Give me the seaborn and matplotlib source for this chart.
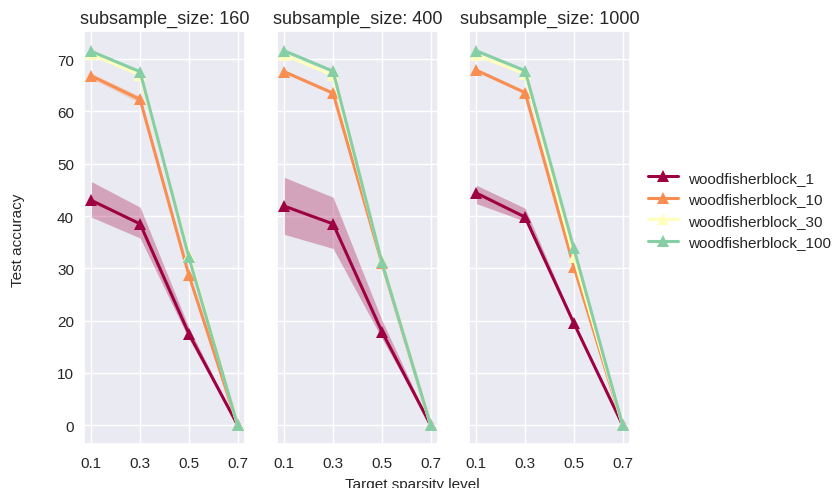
import numpy as np
import pandas as pd
import matplotlib
matplotlib.use("Agg")
import matplotlib.pyplot as plt
import seaborn as sns

# Target sparsity levels on the x axis
sparsity = [0.1, 0.3, 0.5, 0.7]
x_ticks = [0.1, 0.3, 0.5, 0.7]
subsample_sizes = [160, 400, 1000]
methods = ["woodfisherblock_1", "woodfisherblock_10",
           "woodfisherblock_30", "woodfisherblock_100"]

# Mean test accuracy per method, one row per subsample size (160, 400, 1000)
acc_wfb1 = [[43.0, 38.5, 17.5, 0.0],
            [41.9, 38.5, 17.9, 0.0],
            [44.4, 39.8, 19.5, 0.0]]
acc_wfb10 = [[66.8, 62.3, 28.7, 0.0],
             [67.6, 63.5, 31.0, 0.0],
             [67.9, 63.6, 30.3, 0.0]]
acc_wfb30 = [[70.9, 67.0, 32.6, 0.0],
             [70.8, 66.9, 31.4, 0.0],
             [70.8, 67.2, 32.1, 0.0]]
acc_wfb100 = [[71.5, 67.6, 32.1, 0.0],
              [71.6, 67.7, 31.2, 0.0],
              [71.6, 67.8, 33.8, 0.0]]

# Confidence band bounds
lo_wfb1 = [[39.8, 35.8, 16.5, 0.0],
           [36.5, 33.8, 16.6, 0.0],
           [42.4, 39.0, 19.2, 0.0]]
hi_wfb1 = [[46.6, 41.7, 18.7, 0.0],
           [47.4, 43.6, 20.1, 0.0],
           [45.9, 41.5, 19.8, 0.0]]
lo_wfb10 = [[66.3, 61.6, 28.3, 0.0],
            [67.3, 63.2, 30.7, 0.0],
            [67.6, 63.3, 30.0, 0.0]]
hi_wfb10 = [[67.3, 62.9, 29.1, 0.0],
            [67.9, 63.8, 31.3, 0.0],
            [68.2, 63.9, 30.6, 0.0]]
lo_wfb30 = [[70.7, 66.8, 32.4, 0.0],
            [70.6, 66.7, 31.2, 0.0],
            [70.6, 67.0, 31.9, 0.0]]
hi_wfb30 = [[71.1, 67.2, 32.8, 0.0],
            [71.0, 67.1, 31.6, 0.0],
            [71.0, 67.4, 32.3, 0.0]]
lo_wfb100 = [[71.3, 67.4, 31.9, 0.0],
             [71.4, 67.5, 31.0, 0.0],
             [71.4, 67.6, 33.6, 0.0]]
hi_wfb100 = [[71.7, 67.8, 32.3, 0.0],
             [71.8, 67.9, 31.4, 0.0],
             [71.8, 68.0, 34.0, 0.0]]

means = [acc_wfb1, acc_wfb10, acc_wfb30, acc_wfb100]
lows = [lo_wfb1, lo_wfb10, lo_wfb30, lo_wfb100]
highs = [hi_wfb1, hi_wfb10, hi_wfb30, hi_wfb100]

sns.set_theme(style="darkgrid")
plt.rcParams["font.family"] = ["Liberation Sans", "DejaVu Sans"]
plt.rcParams["xtick.major.size"] = 0
plt.rcParams["ytick.major.size"] = 0
plt.rcParams["xtick.major.pad"] = 9
plt.rcParams["ytick.major.pad"] = 7.2

cmap = matplotlib.colormaps["Spectral"]
palette = {m: cmap(v) for m, v in zip(methods, [0.0, 0.25, 0.5, 0.75])}

rows = []
for k, size in enumerate(subsample_sizes):
    for j, m in enumerate(methods):
        for i, s in enumerate(sparsity):
            rows.append({"subsample_size": size, "method": m, "sparsity": s,
                         "accuracy": means[j][k][i],
                         "low": lows[j][k][i], "high": highs[j][k][i]})
df = pd.DataFrame(rows)

W, H = 836, 489
fig = plt.figure(figsize=(W / 100, H / 100), dpi=100)
lefts = [84, 277, 469]
axes = []
for left in lefts:
    ax = fig.add_axes([left / W, (H - 445) / H, 161 / W, (445 - 32) / H],
                      sharey=axes[0] if axes else None)
    axes.append(ax)

for ax, size in zip(axes, subsample_sizes):
    sub = df[df["subsample_size"] == size]
    for m in methods:
        part = sub[sub["method"] == m]
        ax.fill_between(part["sparsity"], part["low"], part["high"],
                        color=palette[m], alpha=0.3, linewidth=0)
    sns.lineplot(data=sub, x="sparsity", y="accuracy", hue="method",
                 hue_order=methods, palette=palette, marker="^",
                 markersize=8, markeredgewidth=0, linewidth=2.2,
                 errorbar=None, ax=ax, legend=(size == subsample_sizes[0]))
    ax.set_title(f"subsample_size: {size}", fontsize=13)
    ax.set_xticks(x_ticks)
    ax.set_xticklabels([f"{t:.1f}" for t in x_ticks], fontsize=11)
    ax.set_xlabel("")
    ax.set_ylabel("")
    ax.tick_params(axis="y", labelsize=11)

axes[0].set_yticks([0, 10, 20, 30, 40, 50, 60, 70])
for ax in axes[1:]:
    ax.tick_params(axis="y", labelleft=False)

handles, labels = axes[0].get_legend_handles_labels()
axes[0].get_legend().remove()
fig.legend(handles, labels, loc="center left",
           bbox_to_anchor=(634 / W, 1 - 211 / H), frameon=False,
           fontsize=11, handlelength=2.0, handletextpad=0.65)

fig.text(18 / W, 1 - 240 / H, "Test accuracy", rotation=90,
         ha="center", va="center", fontsize=11)
fig.text(412 / W, 1 - 485 / H, "Target sparsity level",
         ha="center", va="center", fontsize=11)

fig.savefig("out.png", dpi=100)
